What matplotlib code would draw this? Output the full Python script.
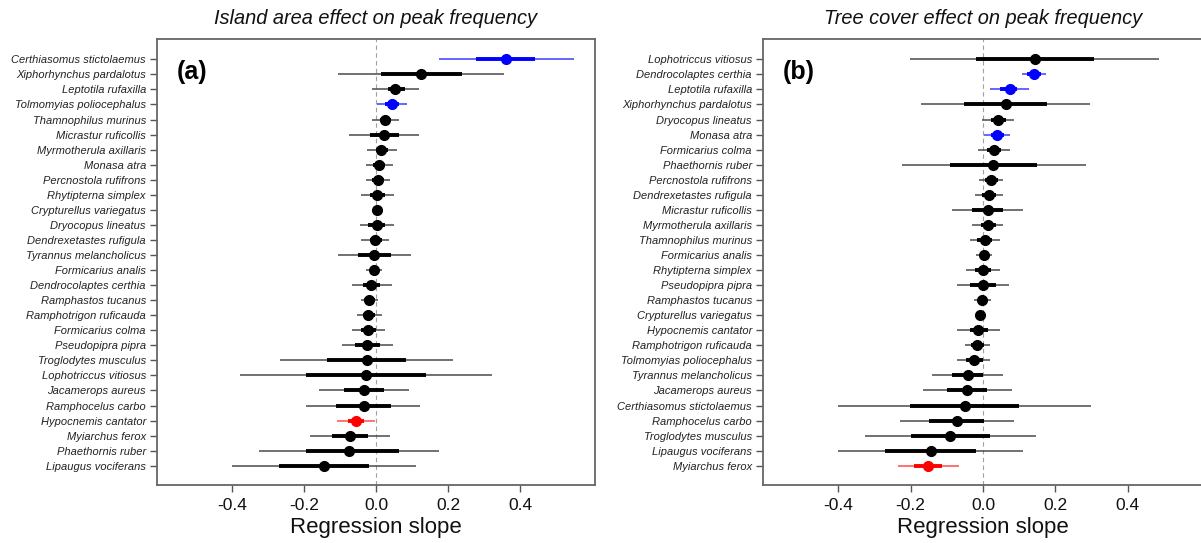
import matplotlib.pyplot as plt
import numpy as np

plt.rcParams['font.family'] = ['Liberation Sans', 'DejaVu Sans']

# ---- dados: painel (a) efeito da area da ilha ----
species_a = ['Certhiasomus stictolaemus', 'Xiphorhynchus pardalotus', 'Leptotila rufaxilla',
             'Tolmomyias poliocephalus', 'Thamnophilus murinus', 'Micrastur ruficollis',
             'Myrmotherula axillaris', 'Monasa atra', 'Percnostola rufifrons', 'Rhytipterna simplex',
             'Crypturellus variegatus', 'Dryocopus lineatus', 'Dendrexetastes rufigula',
             'Tyrannus melancholicus', 'Formicarius analis', 'Dendrocolaptes certhia',
             'Ramphastos tucanus', 'Ramphotrigon ruficauda', 'Formicarius colma', 'Pseudopipra pipra',
             'Troglodytes musculus', 'Lophotriccus vitiosus', 'Jacamerops aureus', 'Ramphocelus carbo',
             'Hypocnemis cantator', 'Myiarchus ferox', 'Phaethornis ruber', 'Lipaugus vociferans']
est_a = [0.360, 0.126, 0.054, 0.044, 0.026, 0.023, 0.015, 0.008, 0.005, 0.003,
         0.002, 0.002, -0.002, -0.005, -0.006, -0.014, -0.019, -0.021, -0.021, -0.024,
         -0.026, -0.028, -0.034, -0.034, -0.056, -0.073, -0.076, -0.144]
lo95_a = [0.174, -0.105, -0.011, 0.003, -0.011, -0.074, -0.026, -0.028, -0.028, -0.043,
          -0.006, -0.045, -0.041, -0.105, -0.028, -0.068, -0.041, -0.054, -0.068, -0.095,
          -0.266, -0.377, -0.158, -0.193, -0.107, -0.184, -0.324, -0.400]
hi95_a = [0.549, 0.356, 0.118, 0.087, 0.063, 0.120, 0.058, 0.047, 0.039, 0.050,
          0.009, 0.049, 0.037, 0.096, 0.016, 0.044, 0.006, 0.016, 0.026, 0.047,
          0.214, 0.321, 0.092, 0.123, -0.002, 0.039, 0.176, 0.110]
lo50_a = [0.279, 0.013, 0.032, 0.026, 0.011, -0.018, 0.000, -0.007, -0.011, -0.018,
          -0.004, -0.021, -0.018, -0.050, -0.018, -0.037, -0.032, -0.037, -0.042, -0.058,
          -0.137, -0.195, -0.089, -0.111, -0.079, -0.123, -0.195, -0.268]
hi50_a = [0.442, 0.240, 0.081, 0.063, 0.042, 0.065, 0.032, 0.026, 0.021, 0.026,
          0.007, 0.026, 0.016, 0.042, 0.008, 0.011, -0.003, -0.003, 0.000, 0.011,
          0.084, 0.139, 0.021, 0.042, -0.032, -0.021, 0.063, -0.019]
# 1 = positivo significativo, -1 = negativo significativo, 0 = nada
sig_a = [1, 0, 0, 1, 0, 0, 0, 0, 0, 0, 0, 0, 0, 0, 0, 0, 0, 0, 0, 0,
         0, 0, 0, 0, -1, 0, 0, 0]

# ---- dados: painel (b) efeito da cobertura arborea ----
species_b = ['Lophotriccus vitiosus', 'Dendrocolaptes certhia', 'Leptotila rufaxilla',
             'Xiphorhynchus pardalotus', 'Dryocopus lineatus', 'Monasa atra', 'Formicarius colma',
             'Phaethornis ruber', 'Percnostola rufifrons', 'Dendrexetastes rufigula',
             'Micrastur ruficollis', 'Myrmotherula axillaris', 'Thamnophilus murinus',
             'Formicarius analis', 'Rhytipterna simplex', 'Pseudopipra pipra', 'Ramphastos tucanus',
             'Crypturellus variegatus', 'Hypocnemis cantator', 'Ramphotrigon ruficauda',
             'Tolmomyias poliocephalus', 'Tyrannus melancholicus', 'Jacamerops aureus',
             'Certhiasomus stictolaemus', 'Ramphocelus carbo', 'Troglodytes musculus',
             'Lipaugus vociferans', 'Myiarchus ferox']
est_b = [0.143, 0.140, 0.074, 0.063, 0.042, 0.039, 0.030, 0.029, 0.022, 0.016,
         0.013, 0.013, 0.005, 0.004, 0.000, 0.000, -0.003, -0.007, -0.014, -0.016,
         -0.026, -0.042, -0.044, -0.051, -0.072, -0.090, -0.145, -0.151]
lo95_b = [-0.201, 0.108, 0.019, -0.172, -0.003, 0.003, -0.013, -0.224, -0.011, -0.022,
          -0.087, -0.030, -0.037, -0.018, -0.046, -0.072, -0.026, -0.016, -0.072, -0.051,
          -0.072, -0.140, -0.167, -0.400, -0.230, -0.326, -0.400, -0.235]
hi95_b = [0.487, 0.175, 0.127, 0.296, 0.087, 0.074, 0.074, 0.284, 0.056, 0.056,
          0.111, 0.055, 0.046, 0.026, 0.048, 0.072, 0.023, 0.002, 0.046, 0.019,
          0.019, 0.055, 0.079, 0.298, 0.085, 0.146, 0.111, -0.067]
lo50_b = [-0.018, 0.122, 0.048, -0.053, 0.021, 0.021, 0.011, -0.090, 0.005, -0.003,
          -0.030, -0.005, -0.016, -0.007, -0.021, -0.037, -0.014, -0.012, -0.037, -0.032,
          -0.048, -0.087, -0.100, -0.203, -0.148, -0.198, -0.270, -0.190]
hi50_b = [0.307, 0.159, 0.095, 0.177, 0.063, 0.058, 0.051, 0.150, 0.042, 0.037,
          0.055, 0.037, 0.026, 0.016, 0.023, 0.037, 0.011, -0.002, 0.014, 0.002,
          0.000, 0.000, 0.011, 0.100, 0.003, 0.019, -0.018, -0.113]
sig_b = [0, 1, 1, 0, 0, 1, 0, 0, 0, 0, 0, 0, 0, 0, 0, 0, 0, 0, 0, 0,
         0, 0, 0, 0, 0, 0, 0, -1]

# cores: (linha fina, linha grossa / ponto)
cores = {0: ('#4a4a4a', 'black'), 1: ('#3c3cff', '#0000ff'), -1: ('#ff4a4a', '#ff0000')}

fig = plt.figure(figsize=(12.01, 5.43), dpi=100)
W, H = 1201, 543


def painel(ax, nomes, est, lo95, hi95, lo50, hi50, sig, letra):
    n = len(nomes)
    y = np.arange(n, 0, -1)
    ax.axvline(0, color='#a0a0a0', lw=0.8, ls=(0, (4, 3)), zorder=1)
    for i in range(n):
        fina, grossa = cores[sig[i]]
        ax.plot([lo95[i], hi95[i]], [y[i], y[i]], color=fina, lw=1.1, zorder=2,
                solid_capstyle='butt')
        ax.plot([lo50[i], hi50[i]], [y[i], y[i]], color=grossa, lw=2.8, zorder=3,
                solid_capstyle='butt')
        ax.plot(est[i], y[i], 'o', color=grossa, markersize=7, zorder=4)
    ax.set_xlim(-0.608, 0.608)
    ax.set_ylim(1 - 1.28, n + 1.35)
    ax.set_yticks(y)
    ax.set_yticklabels(nomes, fontstyle='italic', fontsize=8, color='#222222')
    ax.set_xticks([-0.4, -0.2, 0.0, 0.2, 0.4])
    ax.set_xticklabels(['-0.4', '-0.2', '0.0', '0.2', '0.4'], fontsize=12.5, color='#111111')
    ax.tick_params(axis='y', length=5, width=1, color='#555555', pad=3)
    ax.tick_params(axis='x', length=5, width=1, color='#555555', pad=4)
    for s in ax.spines.values():
        s.set_color('#666666')
        s.set_linewidth(1.3)
    ax.set_xlabel('Regression slope', fontsize=16, labelpad=3, color='#111111')
    ax.text(0.044, 0.926, letra, transform=ax.transAxes, fontsize=18,
            fontweight='bold', ha='left', va='center')


ax1 = fig.add_axes([157 / W, 58 / H, 438 / W, 446 / H])
painel(ax1, species_a, est_a, lo95_a, hi95_a, lo50_a, hi50_a, sig_a, '(a)')

ax2 = fig.add_axes([763 / W, 58 / H, 440 / W, 446 / H])
painel(ax2, species_b, est_b, lo95_b, hi95_b, lo50_b, hi50_b, sig_b, '(b)')

fig.text(376 / W, 1 - 19 / H, 'Island area effect on peak frequency', fontsize=14.4,
         fontstyle='italic', ha='center', va='center', color='#111111')
fig.text(983 / W, 1 - 19 / H, 'Tree cover effect on peak frequency', fontsize=14.4,
         fontstyle='italic', ha='center', va='center', color='#111111')

fig.savefig('out.png', dpi=100)
